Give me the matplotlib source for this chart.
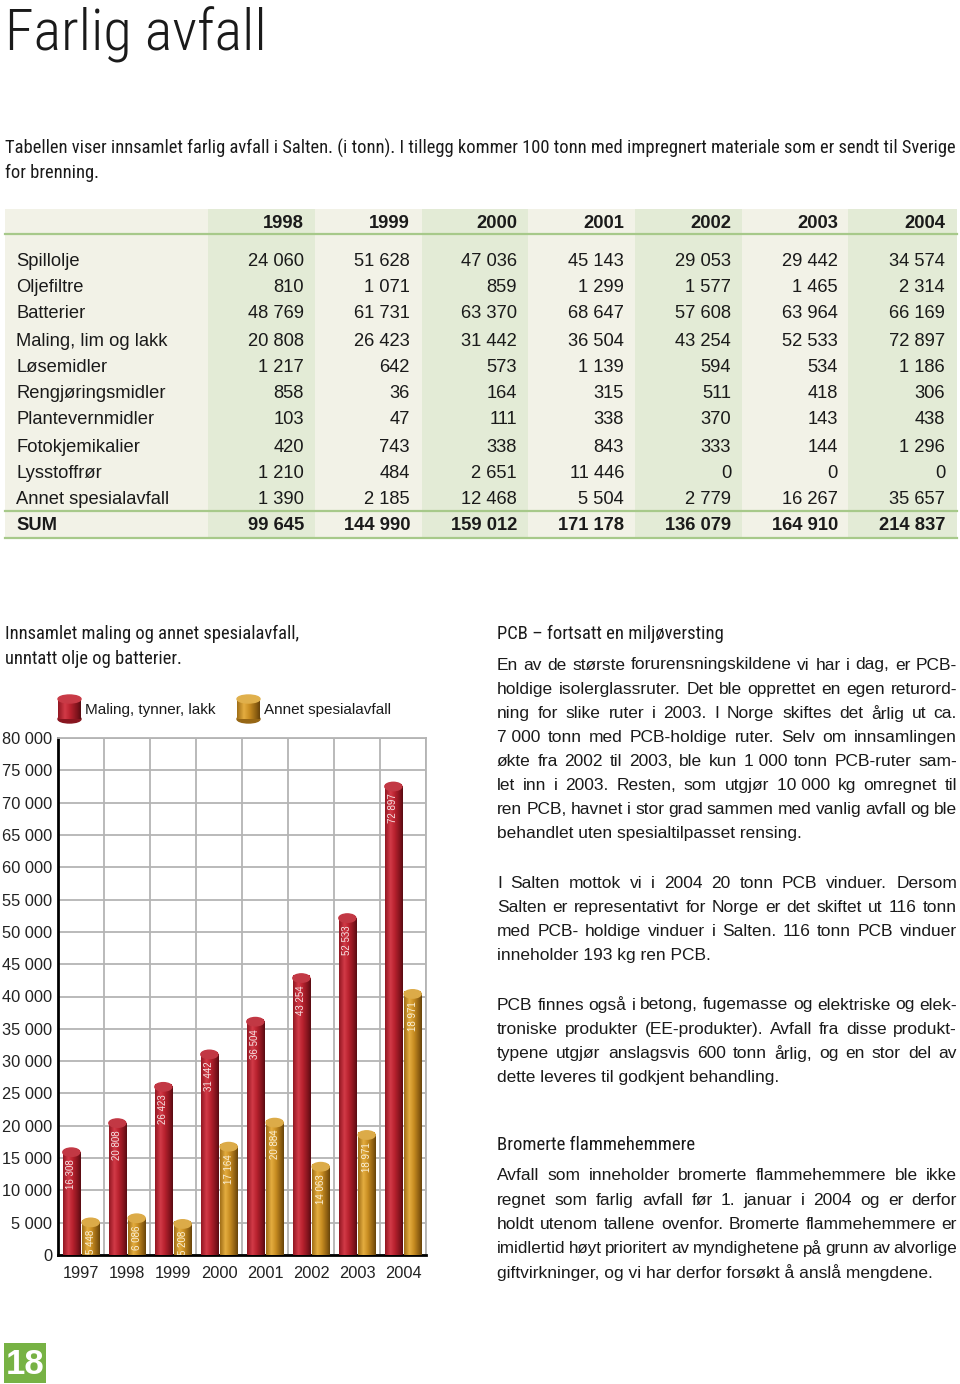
import matplotlib
matplotlib.use('Agg')
import matplotlib.pyplot as plt
import numpy as np
from matplotlib import font_manager
from matplotlib.patches import Rectangle, Ellipse
from matplotlib.colors import LinearSegmentedColormap

# ---- data ----
table_years = ['1998', '1999', '2000', '2001', '2002', '2003', '2004']
row_names = ['Spillolje', 'Oljefiltre', 'Batterier', 'Maling, lim og lakk', 'Løsemidler',
             'Rengjøringsmidler', 'Plantevernmidler', 'Fotokjemikalier', 'Lysstoffrør',
             'Annet spesialavfall']
spillolje = [24060, 51628, 47036, 45143, 29053, 29442, 34574]
oljefiltre = [810, 1071, 859, 1299, 1577, 1465, 2314]
batterier = [48769, 61731, 63370, 68647, 57608, 63964, 66169]
maling_lim = [20808, 26423, 31442, 36504, 43254, 52533, 72897]
losemidler = [1217, 642, 573, 1139, 594, 534, 1186]
rengjoring = [858, 36, 164, 315, 511, 418, 306]
plantevern = [103, 47, 111, 338, 370, 143, 438]
foto = [420, 743, 338, 843, 333, 144, 1296]
lysstoff = [1210, 484, 2651, 11446, 0, 0, 0]
annet_spes = [1390, 2185, 12468, 5504, 2779, 16267, 35657]
sum_row = [99645, 144990, 159012, 171178, 136079, 164910, 214837]

chart_years = ['1997', '1998', '1999', '2000', '2001', '2002', '2003', '2004']
maling = [16308, 20808, 26423, 31442, 36504, 43254, 52533, 72897]
annet = [5448, 6086, 5208, 17164, 20884, 14063, 18971, 40800]
maling_labels = ['16 308', '20 808', '26 423', '31 442', '36 504', '43 254', '52 533', '72 897']
annet_labels = ['5 448', '6 086', '5 208', '17 164', '20 884', '14 063', '18 971', '18 971']

names = {f.name for f in font_manager.fontManager.ttflist}
COND = 'DejaVu Sans'
for cand in ('Liberation Sans Narrow', 'Roboto Condensed', 'Open Sans Condensed',
             'Noto Sans Condensed', 'DejaVu Sans'):
    if cand in names:
        COND = cand
        break
STRETCH = 'condensed'
BODY = 'Liberation Sans'
INK = '#1a1a1a'

W, H = 960, 1384
fig = plt.figure(figsize=(9.6, 13.84), dpi=100)
bg = fig.add_axes([0, 0, 1, 1])
bg.axis('off')
bg.set_xlim(0, W)
bg.set_ylim(H, 0)
r = fig.canvas.get_renderer()


def width_of(s, size, family, weight='normal', stretch='normal'):
    t = bg.text(0, 0, s, fontsize=size, family=family, weight=weight, fontstretch=stretch)
    w = t.get_window_extent(r).width
    t.remove()
    return w


def fit(s, target, family, weight='normal', stretch='normal'):
    size = 10 * target / width_of(s, 10, family, weight, stretch)
    for _ in range(2):
        size *= target / width_of(s, size, family, weight, stretch)
    return size


def ctext(x, y, s, size, weight='normal'):
    bg.text(x, y, s, fontsize=size, family=COND, fontstretch=STRETCH, weight=weight,
            color=INK, va='center')


def justify(lines, x0, x1, y0, dy, size):
    for i, line in enumerate(lines):
        y = y0 + i * dy
        words = line.split(' ')
        if i == len(lines) - 1 or len(words) == 1:
            bg.text(x0, y, line, fontsize=size, family=BODY, color=INK, va='center')
            continue
        sz = size
        ws = [width_of(w, sz, BODY) for w in words]
        while sum(ws) + 3 * (len(words) - 1) > x1 - x0:
            sz *= 0.99
            ws = [width_of(w, sz, BODY) for w in words]
        gap = (x1 - x0 - sum(ws)) / (len(words) - 1)
        x = x0
        for w, wd in zip(words, ws):
            bg.text(x, y, w, fontsize=sz, family=BODY, color=INK, va='center')
            x += wd + gap


def fmt(v):
    return f'{v:,}'.replace(',', ' ')


# ---- title & intro ----
ctext(5, 35, 'Farlig avfall', 42, weight='light')
sub1 = 'Tabellen viser innsamlet farlig avfall i Salten. (i tonn). I tillegg kommer 100 tonn med impregnert materiale som er sendt til Sverige'
s_sub = fit(sub1, 950, COND, stretch=STRETCH)
ctext(5, 148, sub1, s_sub)
ctext(5, 173, 'for brenning.', s_sub)

# ---- table ----
beige, green, gline = '#f2f2e7', '#e3ebd6', '#a7c98a'
col_edges = [208, 315, 422, 528, 635, 742, 848, 957]
col_right = [304, 410, 517, 624, 731, 838, 945]
bg.add_patch(Rectangle((5, 209), 952, 329, color=beige, lw=0))
for i in range(7):
    if i % 2 == 0:
        bg.add_patch(Rectangle((col_edges[i], 209), col_edges[i + 1] - col_edges[i], 329,
                               color=green, lw=0))
for yl in (234, 511, 538):
    bg.plot([5, 957], [yl, yl], color=gline, lw=1.6)

tsize = 13.2
for j, yr in enumerate(table_years):
    bg.text(col_right[j], 224, yr, fontsize=tsize, family=BODY, weight='bold', color=INK,
            ha='right', va='center')
rows = [spillolje, oljefiltre, batterier, maling_lim, losemidler, rengjoring, plantevern,
        foto, lysstoff, annet_spes]
row_y = [261, 288, 314, 341, 367, 394, 420, 447, 473, 500]
for name, vals, y in zip(row_names, rows, row_y):
    bg.text(16, y, name, fontsize=tsize, family=BODY, color=INK, va='center')
    for j, v in enumerate(vals):
        bg.text(col_right[j], y, fmt(v), fontsize=tsize, family=BODY, color=INK,
                ha='right', va='center')
bg.text(16, 526, 'SUM', fontsize=tsize, family=BODY, weight='bold', color=INK, va='center')
for j, v in enumerate(sum_row):
    bg.text(col_right[j], 526, fmt(v), fontsize=tsize, family=BODY, weight='bold', color=INK,
            ha='right', va='center')

# ---- chart heading ----
h1 = 'Innsamlet maling og annet spesialavfall,'
s_h = fit(h1, 294, COND, stretch=STRETCH)
ctext(5, 634, h1, s_h)
ctext(5, 659, 'unntatt olje og batterier.', s_h)

red_cmap = LinearSegmentedColormap.from_list(
    'red', [(0, '#921722'), (0.3, '#d23a47'), (0.55, '#b7212e'), (0.85, '#7e131c'), (1, '#580b12')])
gold_cmap = LinearSegmentedColormap.from_list(
    'gold', [(0, '#a06e16'), (0.3, '#e4ad40'), (0.55, '#c88d22'), (0.85, '#8c5e11'), (1, '#67440b')])
grad = np.linspace(0, 1, 64).reshape(1, -1)

# legend icons
for x0, cmap, cap, label in ((58, red_cmap, '#c83a46', 'Maling, tynner, lakk'),
                             (237, gold_cmap, '#e0b04c', 'Annet spesialavfall')):
    bg.imshow(grad, cmap=cmap, extent=[x0, x0 + 23, 719, 699], aspect='auto', zorder=2)
    bg.add_patch(Ellipse((x0 + 11.5, 719), 23, 8, color=cmap(0.8), zorder=1))
    bg.add_patch(Ellipse((x0 + 11.5, 699), 23, 8, color=cap, zorder=3))
    bg.text(x0 + 27, 710, label, fontsize=11, family=BODY, color=INK, va='center')

# ---- chart ----
ax = fig.add_axes([58 / W, 1 - 1255 / H, 368 / W, 517 / H])
x = np.arange(len(chart_years))
bw = 0.37
red_bars = ax.bar(x + 0.29, maling, bw, color='#b3202d', zorder=3)
gold_bars = ax.bar(x + 0.71, annet, bw, color='#c88d22', zorder=3)
cap_h = 1300
for bars, cmap, cap, labels, tc in ((red_bars, red_cmap, '#c23844', maling_labels, '#f6e4e4'),
                                    (gold_bars, gold_cmap, '#dcab48', annet_labels, '#fbf1da')):
    for b, lab in zip(bars, labels):
        bx, bwid, bh = b.get_x(), b.get_width(), b.get_height()
        im = ax.imshow(grad, cmap=cmap, extent=[bx, bx + bwid, 0, bh - 400], aspect='auto', zorder=4)
        im.set_clip_path(b)
        ax.add_patch(Ellipse((bx + bwid / 2, bh - 400), bwid, cap_h, color=cap, zorder=5))
        ax.text(bx + bwid / 2, bh - 1500, lab, rotation=90, ha='center', va='top', fontsize=7,
                family=BODY, color=tc, zorder=6, clip_on=True)

ax.set_xlim(0, 8)
ax.set_ylim(0, 80000)
ax.set_xticks(x + 0.5)
ax.set_xticklabels(chart_years)
ax.set_xticks(np.arange(9), minor=True)
ax.set_yticks(np.arange(0, 80001, 5000))
ax.set_yticklabels([fmt(v) for v in range(0, 80001, 5000)])
ax.grid(axis='y', which='major', color='#b4b4b4', lw=1.3, zorder=0)
ax.grid(axis='x', which='minor', color='#b4b4b4', lw=1.3, zorder=0)
ax.tick_params(which='both', length=0)
ax.tick_params(axis='y', pad=4, labelsize=11.8, labelcolor='#222222')
ax.tick_params(axis='x', pad=8, labelsize=11.8, labelcolor='#222222')
for lab in ax.get_xticklabels() + ax.get_yticklabels():
    lab.set_family(BODY)
for s in ('left', 'bottom'):
    ax.spines[s].set_color('black')
    ax.spines[s].set_linewidth(2)
for s in ('top', 'right'):
    ax.spines[s].set_color('#b4b4b4')
    ax.spines[s].set_linewidth(1.3)
ax.set_facecolor('white')

# ---- right column text ----
p1 = ['En av de største forurensningskildene vi har i dag, er PCB-',
      'holdige isolerglassruter. Det ble opprettet en egen returord-',
      'ning for slike ruter i 2003. I Norge skiftes det årlig ut ca.',
      '7\u00a0000 tonn med PCB-holdige ruter. Selv om innsamlingen',
      'økte fra 2002 til 2003, ble kun 1\u00a0000 tonn PCB-ruter sam-',
      'let inn i 2003. Resten, som utgjør 10\u00a0000 kg omregnet til',
      'ren PCB, havnet i stor grad sammen med vanlig avfall og ble',
      'behandlet uten spesialtilpasset rensing.']
p2 = ['I Salten mottok vi i 2004 20 tonn PCB vinduer. Dersom',
      'Salten er representativt for Norge er det skiftet ut 116 tonn',
      'med PCB- holdige vinduer i Salten. 116 tonn PCB vinduer',
      'inneholder 193 kg ren PCB.']
p3 = ['PCB finnes også i betong, fugemasse og elektriske og elek-',
      'troniske produkter (EE-produkter). Avfall fra disse produkt-',
      'typene utgjør anslagsvis 600 tonn årlig, og en stor del av',
      'dette leveres til godkjent behandling.']
p4 = ['Avfall som inneholder bromerte flammehemmere ble ikke',
      'regnet som farlig avfall før 1. januar i 2004 og er derfor',
      'holdt utenom tallene ovenfor. Bromerte flammehemmere er',
      'imidlertid høyt prioritert av myndighetene på grunn av alvorlige',
      'giftvirkninger, og vi har derfor forsøkt å anslå mengdene.']

bsize = fit('behandlet uten spesialtilpasset rensing.', 304, BODY)

ctext(497, 634, 'PCB – fortsatt en miljøversting',
      fit('PCB – fortsatt en miljøversting', 227, COND, stretch=STRETCH))
justify(p1, 497, 957, 665, 24.1, bsize)
justify(p2, 497, 957, 883, 24.1, bsize)
justify(p3, 497, 957, 1005, 24.1, bsize)
ctext(497, 1145, 'Bromerte flammehemmere',
      fit('Bromerte flammehemmere', 198, COND, stretch=STRETCH))
justify(p4, 497, 957, 1176, 24.1, bsize)

# ---- page number ----
bg.add_patch(Rectangle((4, 1343), 42, 40, color='#77b244', lw=0))
bg.text(25, 1364, '18', fontsize=25, family=BODY, weight='bold', color='white',
        ha='center', va='center')

bg.set_xlim(0, W)
bg.set_ylim(H, 0)
fig.savefig('out.png', dpi=100)
